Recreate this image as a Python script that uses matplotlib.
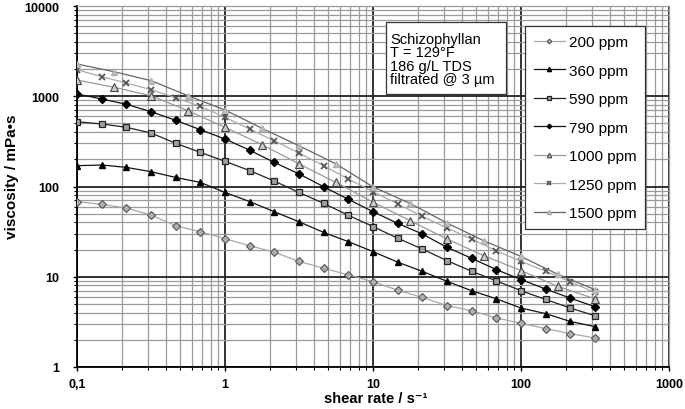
import matplotlib
matplotlib.use('Agg')
from matplotlib import pyplot as plt
from matplotlib.patches import Rectangle
from matplotlib.ticker import LogLocator, FixedLocator, FixedFormatter, NullFormatter

plt.rcParams['font.family'] = ['Liberation Sans', 'DejaVu Sans']

# shear rates (1/s): 6 points per decade, and 4 per decade for two series
rates6 = [0.1, 0.147, 0.215, 0.316, 0.464, 0.681, 1, 1.47, 2.15, 3.16, 4.64,
          6.81, 10, 14.7, 21.5, 31.6, 46.4, 68.1, 100, 147, 215, 316]
rates4 = [0.1, 0.178, 0.316, 0.562, 1, 1.78, 3.16, 5.62, 10, 17.8, 31.6,
          56.2, 100, 178, 316]

visc_200 = [68, 63.5, 57.8, 48.3, 36.8, 31.5, 26.4, 22.1, 18.7, 14.8, 12.4,
            10.5, 8.8, 7.1, 5.9, 4.8, 4.2, 3.5, 3.05, 2.66, 2.34, 2.1]
visc_360 = [170, 173, 163, 146, 126, 111, 86, 68, 52.6, 40.7, 31,
            24.5, 19, 14.5, 11.5, 8.9, 7.0, 5.7, 4.5, 3.9, 3.2, 2.8]
visc_590 = [522, 493, 453, 392, 301, 239, 190, 150, 115, 86, 65,
            48, 36, 26.7, 20.3, 15.1, 11.5, 9.0, 7.0, 5.6, 4.5, 3.7]
visc_790 = [1060, 933, 815, 675, 541, 426, 336, 252, 185, 138, 99.5,
            72, 52.6, 39, 29.8, 21.2, 16, 12, 9.3, 7.3, 5.8, 4.65]
visc_1000 = [1514, 1256, 1014, 692, 453, 291, 178, 111, 67, 41.8, 26.2,
             17.1, 11.7, 7.8, 5.7]
visc_1250 = [1968, 1648, 1403, 1183, 964, 773, 584, 433, 321, 235, 170,
             121, 87.6, 64, 46.8, 34.7, 26.2, 19.4, 14.8, 11.5, 8.8, 6.7]
visc_1500 = [2277, 1870, 1490, 1014, 704, 441, 283, 178, 99, 65, 39.4,
             25, 16.8, 10.6, 7.2]

labels = ['200 ppm', '360 ppm', '590 ppm', '790 ppm', '1000 ppm', '1250 ppm', '1500 ppm']
x_ticks = [0.1, 1, 10, 100, 1000]
x_tick_labels = ['0,1', '1', '10', '100', '1000']
y_ticks = [1, 10, 100, 1000, 10000]
y_tick_labels = ['1', '10', '100', '1000', '10000']

fig = plt.figure(figsize=(6.85, 4.1), dpi=100)
ax = fig.add_axes([77 / 685, 1 - 368 / 410, 592 / 685, 361 / 410])

series = [
    (rates6, visc_200, dict(color='#a8a8a8', marker='D', ms=4, mfc='#b0b0b0', mec='#555555', mew=0.8)),
    (rates6, visc_360, dict(color='#111111', marker='^', ms=5, mfc='black', mec='black')),
    (rates6, visc_590, dict(color='#222222', marker='s', ms=5, mfc='#a0a0a0', mec='#222222', mew=0.9)),
    (rates6, visc_790, dict(color='#111111', marker='D', ms=3.8, mfc='black', mec='black')),
    (rates4, visc_1000, dict(color='#999999', marker='^', ms=5.5, mfc='#cccccc', mec='#444444', mew=0.8)),
    (rates6, visc_1250, dict(color='#aaaaaa', marker='x', ms=5, mec='#555555', mew=1.3)),
    (rates4, visc_1500, dict(color='#666666', marker='^', ms=5, mfc='#c0c0c0', mec='#b0b0b0')),
]
for (xs, ys, style), lab in zip(series, labels):
    ax.plot(xs, ys, lw=0.9, label=lab, zorder=3, **style)

ax.set_xscale('log')
ax.set_yscale('log')
ax.set_xlim(0.1, 1000)
ax.set_ylim(1, 10000)

ax.xaxis.set_major_locator(FixedLocator(x_ticks))
ax.xaxis.set_major_formatter(FixedFormatter(x_tick_labels))
ax.yaxis.set_major_locator(FixedLocator(y_ticks))
ax.yaxis.set_major_formatter(FixedFormatter(y_tick_labels))
ax.xaxis.set_minor_locator(LogLocator(base=10, subs=range(2, 10)))
ax.yaxis.set_minor_locator(LogLocator(base=10, subs=range(2, 10)))
ax.xaxis.set_minor_formatter(NullFormatter())
ax.yaxis.set_minor_formatter(NullFormatter())

ax.grid(which='minor', color='#9a9a9a', lw=0.9)
ax.grid(which='major', color='#222222', lw=1.3)
ax.set_axisbelow(True)

for s in ['left', 'bottom']:
    ax.spines[s].set_color('black')
    ax.spines[s].set_linewidth(1.3)
for s in ['top', 'right']:
    ax.spines[s].set_color('#9a9a9a')
    ax.spines[s].set_linewidth(0.9)

ax.tick_params(axis='both', which='major', labelsize=9, length=3, width=1)
ax.tick_params(axis='both', which='minor', length=2.5, width=0.8)
ax.tick_params(axis='y', which='major', pad=10)
ax.tick_params(axis='x', which='major', pad=5)
for t in ax.get_xticklabels() + ax.get_yticklabels():
    t.set_fontweight('bold')

ax.set_xlabel('shear rate / s\u207b\u00b9', fontsize=10.5, fontweight='bold')
ax.set_ylabel('viscosity / mPa\u2022s', fontsize=11, fontweight='bold')
ax.xaxis.set_label_coords(0.505, -0.066)
ax.yaxis.set_label_coords(-0.098, 0.53)

# info box
ax.add_patch(Rectangle((0.522, 0.756), 0.2027, 0.2, transform=ax.transAxes,
                       fc='white', ec='#333333', lw=0.9, zorder=5))
ax.text(0.5287, 0.928, 'Schizophyllan\nT = 129\u00b0F\n186 g/L TDS\nfiltrated @ 3 \u00b5m',
        transform=ax.transAxes, fontsize=10.5, va='top', ha='left', linespacing=0.95,
        zorder=6)

leg = ax.legend(loc='upper left', bbox_to_anchor=(0.7568, 0.9446), fontsize=11,
                frameon=True, fancybox=False, edgecolor='#333333', framealpha=1,
                handlelength=2.0, labelspacing=0.95, borderpad=0.6, handletextpad=0.25,
                borderaxespad=0, markerscale=0.6)
leg.get_frame().set_linewidth(0.9)
leg.set_zorder(7)

fig.savefig('out.png', dpi=100)
